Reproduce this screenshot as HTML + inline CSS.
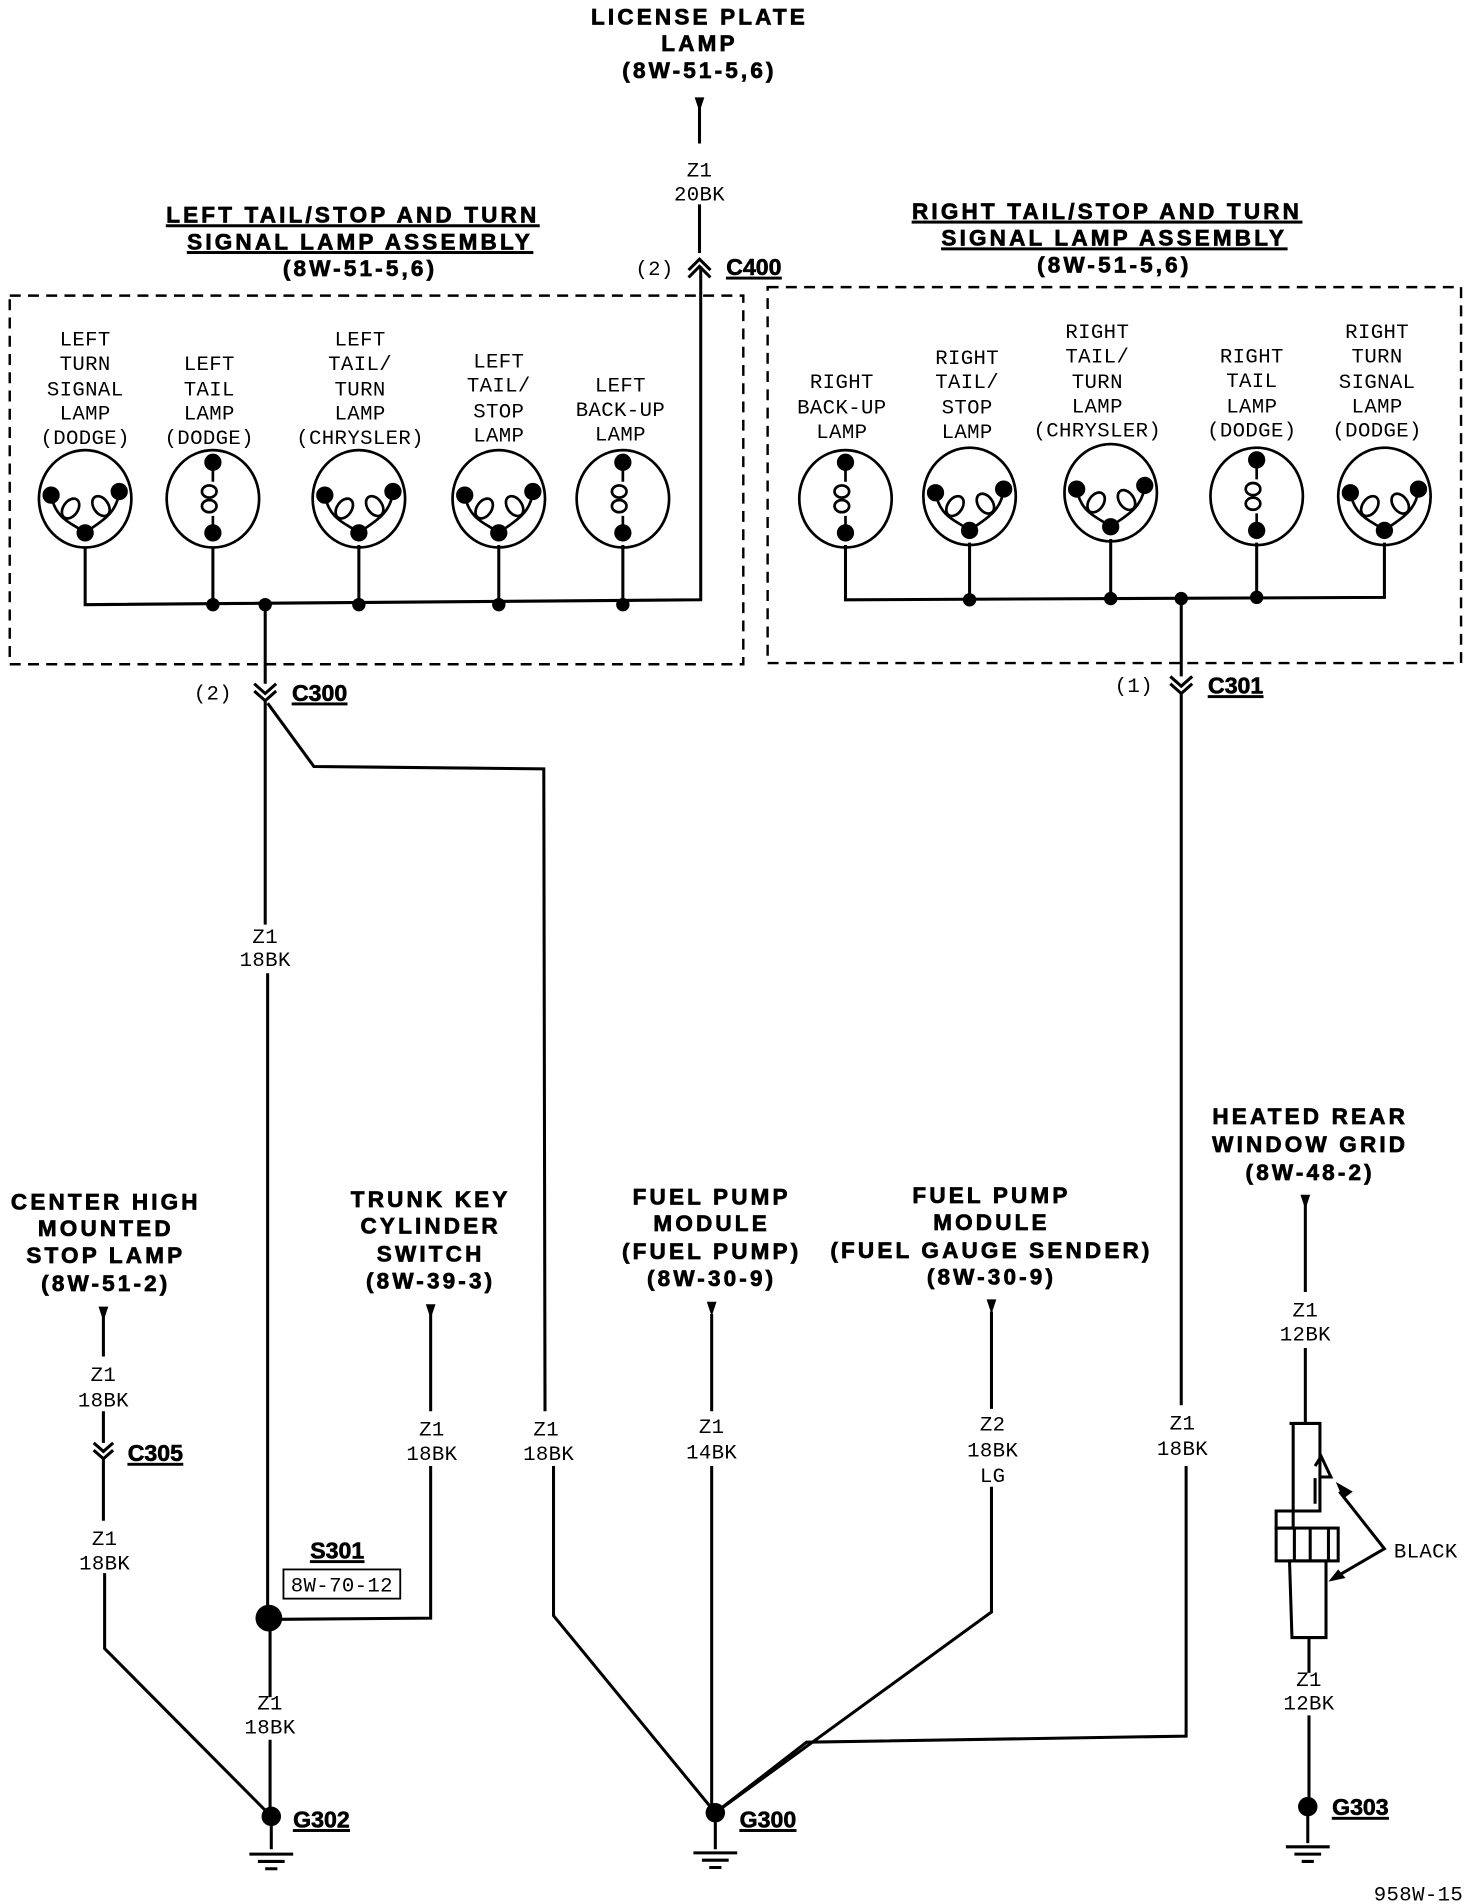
<!DOCTYPE html>
<html><head><meta charset="utf-8"><style>
html,body{margin:0;padding:0;background:#fff}
svg{display:block}
.h{font-family:"Liberation Sans",sans-serif;font-weight:bold;font-size:18.5px;letter-spacing:2.6px;text-anchor:middle;stroke:#000;stroke-width:0.6px}
.s{font-family:"Liberation Mono",monospace;font-size:17px;letter-spacing:0.3px;text-anchor:middle}
.c{font-family:"Liberation Sans",sans-serif;font-weight:bold;font-size:19px;text-decoration:underline;stroke:#000;stroke-width:0.5px}
</style></head><body>
<svg width="1472" height="1904" viewBox="0 0 1210 1565" preserveAspectRatio="none" xmlns="http://www.w3.org/2000/svg">
<defs>
<g id="la" fill="none" stroke="#000" stroke-width="2.2">
<ellipse cx="0" cy="0" rx="38" ry="40"/>
<path d="M-28,-3 C-24,18 -10,20 0,28 M28,-6 C26,14 10,20 0,28"/>
<ellipse cx="-12" cy="8" rx="6" ry="9" transform="rotate(35 -12 8)"/>
<ellipse cx="13" cy="6" rx="6" ry="9" transform="rotate(-35 13 6)"/>
<circle cx="-28" cy="-3" r="6" fill="#000"/><circle cx="28" cy="-6" r="6" fill="#000"/><circle cx="0" cy="28" r="6" fill="#000"/>
</g>
<g id="lb" fill="none" stroke="#000" stroke-width="2.2">
<ellipse cx="0" cy="0" rx="38" ry="40"/>
<path d="M0,-30 L0,-14 M0,14 L0,28"/>
<ellipse cx="-3" cy="-6" rx="6" ry="5"/><ellipse cx="-3" cy="6" rx="6" ry="5"/>
<circle cx="0" cy="-30" r="6" fill="#000"/><circle cx="0" cy="28" r="6" fill="#000"/>
</g>
<g id="gnd" stroke="#000" stroke-width="2.5"><path d="M-18,0 H18 M-11,6 H11 M-5,12 H5"/></g>
<path id="arr" d="M-4,0 L4,0 L0,12 Z"/>
</defs>

<text class="h" x="575" y="20">LICENSE PLATE</text>
<text class="h" x="575" y="42">LAMP</text>
<text class="h" x="575" y="64">(8W-51-5,6)</text>
<use href="#arr" x="575" y="80"/>
<g stroke="#000" stroke-width="2.5" fill="none">
<path d="M575,88 V118 M575,168 V208"/>
<path d="M566,222 L575,213 L584,222 M566,228 L575,219 L584,228"/>
<path d="M576,219 V493 L70,497 V450"/>
<path d="M175,497 V450 M295,497 V448 M410,497 V448 M512,497 V448"/>
<path d="M218,497 V562 M209,562 L218,570 L227,562 M209,568 L218,576 L227,568"/>
<path d="M218,576 V760 M220,800 V1330 M222,1330 V1395 M222,1430 V1492"/>
<path d="M220,578 L258,630 L447,632 L448,1160 M455,1205 V1328 L588,1490"/>
</g>
<text class="s" x="575" y="145">Z1</text><text class="s" x="575" y="165">20BK</text>
<text class="s" x="538" y="226">(2)</text><text class="c" x="597" y="226">C400</text>

<text class="h" x="290" y="183" text-decoration="underline">LEFT TAIL/STOP AND TURN</text>
<text class="h" x="296" y="205" text-decoration="underline">SIGNAL LAMP ASSEMBLY</text>
<text class="h" x="296" y="227">(8W-51-5,6)</text>
<rect x="8" y="243" width="603" height="303" fill="none" stroke="#000" stroke-width="2" stroke-dasharray="9,6"/>
<g class="s">
<text x="70" y="284">LEFT</text><text x="70" y="304">TURN</text><text x="70" y="325">SIGNAL</text><text x="70" y="345">LAMP</text><text x="70" y="365">(DODGE)</text>
<text x="172" y="304">LEFT</text><text x="172" y="325">TAIL</text><text x="172" y="345">LAMP</text><text x="172" y="365">(DODGE)</text>
<text x="296" y="284">LEFT</text><text x="296" y="304">TAIL/</text><text x="296" y="325">TURN</text><text x="296" y="345">LAMP</text><text x="296" y="365">(CHRYSLER)</text>
<text x="410" y="302">LEFT</text><text x="410" y="322">TAIL/</text><text x="410" y="343">STOP</text><text x="410" y="363">LAMP</text>
<text x="510" y="322">LEFT</text><text x="510" y="342">BACK-UP</text><text x="510" y="362">LAMP</text>
</g>
<use href="#la" x="70" y="410"/><use href="#lb" x="175" y="410"/><use href="#la" x="295" y="410"/><use href="#la" x="410" y="410"/><use href="#lb" x="512" y="410"/>
<g fill="#000"><circle cx="175" cy="497" r="5.5"/><circle cx="218" cy="497" r="5.5"/><circle cx="295" cy="497" r="5.5"/><circle cx="410" cy="497" r="5.5"/><circle cx="512" cy="497" r="5.5"/></g>
<text class="s" x="175" y="575">(2)</text><text class="c" x="240" y="576">C300</text>
<text class="s" x="218" y="775">Z1</text><text class="s" x="218" y="794">18BK</text>

<text class="h" x="910" y="180" text-decoration="underline">RIGHT TAIL/STOP AND TURN</text>
<text class="h" x="916" y="202" text-decoration="underline">SIGNAL LAMP ASSEMBLY</text>
<text class="h" x="916" y="224">(8W-51-5,6)</text>
<rect x="631" y="236" width="570" height="309" fill="none" stroke="#000" stroke-width="2" stroke-dasharray="9,6"/>
<g class="s">
<text x="692" y="319">RIGHT</text><text x="692" y="340">BACK-UP</text><text x="692" y="360">LAMP</text>
<text x="795" y="299">RIGHT</text><text x="795" y="319">TAIL/</text><text x="795" y="340">STOP</text><text x="795" y="360">LAMP</text>
<text x="902" y="278">RIGHT</text><text x="902" y="298">TAIL/</text><text x="902" y="319">TURN</text><text x="902" y="339">LAMP</text><text x="902" y="359">(CHRYSLER)</text>
<text x="1029" y="298">RIGHT</text><text x="1029" y="318">TAIL</text><text x="1029" y="339">LAMP</text><text x="1029" y="359">(DODGE)</text>
<text x="1132" y="278">RIGHT</text><text x="1132" y="298">TURN</text><text x="1132" y="319">SIGNAL</text><text x="1132" y="339">LAMP</text><text x="1132" y="359">(DODGE)</text>
</g>
<use href="#lb" x="695" y="410"/><use href="#la" x="797" y="408"/><use href="#la" x="913" y="405"/><use href="#lb" x="1033" y="408"/><use href="#la" x="1138" y="408"/>
<g stroke="#000" stroke-width="2.5" fill="none">
<path d="M695,448 V493 L1138,491 V446 M797,493 V446 M913,492 V443 M1033,491 V446"/>
<path d="M971,492 V556 M962,556 L971,564 L980,556 M962,562 L971,570 L980,562"/>
<path d="M971,570 V1155 M975,1205 V1427 L663,1432 L588,1490"/>
</g>
<g fill="#000"><circle cx="797" cy="493" r="5.5"/><circle cx="913" cy="492" r="5.5"/><circle cx="971" cy="492" r="5.5"/><circle cx="1033" cy="491" r="5.5"/></g>
<text class="s" x="932" y="569">(1)</text><text class="c" x="993" y="570">C301</text>
<text class="s" x="972" y="1175">Z1</text><text class="s" x="972" y="1196">18BK</text>
<text class="s" x="449" y="1180">Z1</text><text class="s" x="451" y="1200">18BK</text>

<text class="h" x="87" y="994">CENTER HIGH</text>
<text class="h" x="87" y="1016">MOUNTED</text>
<text class="h" x="87" y="1038">STOP LAMP</text>
<text class="h" x="87" y="1061">(8W-51-2)</text>
<use href="#arr" x="85" y="1074"/>
<g stroke="#000" stroke-width="2.5" fill="none">
<path d="M85,1082 V1115 M85,1160 V1186 M77,1186 L85,1193 L93,1186 M77,1192 L85,1199 L93,1192 M85,1199 V1250 M86,1293 V1355 L222,1492"/>
<path d="M354,1080 V1160 M354,1205 V1330 L230,1331"/>
<path d="M585,1080 V1160 M585,1205 V1490"/>
<path d="M815,1078 V1158 M815,1222 V1325 L588,1490"/>
<path d="M223,1492 V1520 M588,1490 V1520 M1075,1485 V1515"/>
<path d="M1073,990 V1062 M1073,1108 V1170 M1076,1346 V1375 M1076,1410 V1485"/>
</g>
<text class="s" x="85" y="1135">Z1</text><text class="s" x="85" y="1156">18BK</text>
<text class="c" x="105" y="1201">C305</text>
<text class="s" x="86" y="1270">Z1</text><text class="s" x="86" y="1290">18BK</text>

<text class="h" x="354" y="992">TRUNK KEY</text>
<text class="h" x="354" y="1014">CYLINDER</text>
<text class="h" x="354" y="1037">SWITCH</text>
<text class="h" x="354" y="1059">(8W-39-3)</text>
<use href="#arr" x="354" y="1072"/>
<text class="s" x="355" y="1180">Z1</text><text class="s" x="355" y="1200">18BK</text>
<text class="c" x="255" y="1281">S301</text>
<rect x="233" y="1290" width="96" height="24" fill="none" stroke="#000" stroke-width="1.5"/>
<text class="s" x="281" y="1308">8W-70-12</text>
<circle cx="221" cy="1330" r="11" fill="#000"/>
<text class="s" x="222" y="1405">Z1</text><text class="s" x="222" y="1425">18BK</text>
<circle cx="223" cy="1493" r="8" fill="#000"/>
<text class="c" x="241" y="1502">G302</text>
<use href="#gnd" x="223" y="1524"/>

<text class="h" x="585" y="990">FUEL PUMP</text>
<text class="h" x="585" y="1012">MODULE</text>
<text class="h" x="585" y="1035">(FUEL PUMP)</text>
<text class="h" x="585" y="1057">(8W-30-9)</text>
<use href="#arr" x="585" y="1070"/>
<text class="s" x="585" y="1178">Z1</text><text class="s" x="585" y="1199">14BK</text>
<text class="h" x="815" y="989">FUEL PUMP</text>
<text class="h" x="815" y="1011">MODULE</text>
<text class="h" x="815" y="1034">(FUEL GAUGE SENDER)</text>
<text class="h" x="815" y="1056">(8W-30-9)</text>
<use href="#arr" x="815" y="1068"/>
<text class="s" x="816" y="1176">Z2</text><text class="s" x="816" y="1197">18BK</text><text class="s" x="816" y="1218">LG</text>
<circle cx="588" cy="1490" r="8" fill="#000"/>
<text class="c" x="608" y="1502">G300</text>
<use href="#gnd" x="588" y="1523"/>

<text class="h" x="1077" y="924">HEATED REAR</text>
<text class="h" x="1077" y="947">WINDOW GRID</text>
<text class="h" x="1077" y="970">(8W-48-2)</text>
<use href="#arr" x="1073" y="982"/>
<text class="s" x="1073" y="1082">Z1</text><text class="s" x="1073" y="1102">12BK</text>
<g stroke="#000" stroke-width="2.5" fill="none">
<path d="M1060,1170 H1085 V1242 H1049 V1256 H1063 V1170"/>
<path d="M1081,1215 V1236 M1081,1205 L1086,1197 L1094,1214 L1086,1214"/>
<rect x="1049" y="1256" width="51" height="27"/>
<path d="M1064,1256 V1283 M1077,1256 V1283 M1092,1256 V1283"/>
<path d="M1060,1283 H1090 V1346 H1062 Z"/>
<path d="M1101,1226 L1138,1273 L1095,1298"/>
</g>
<path d="M1098,1218 L1112,1226 L1104,1232 Z M1092,1300 L1100,1290 L1106,1297 Z" fill="#000"/>
<text class="s" x="1172" y="1280">BLACK</text>
<text class="s" x="1076" y="1386">Z1</text><text class="s" x="1076" y="1405">12BK</text>
<circle cx="1075" cy="1485" r="8" fill="#000"/>
<text class="c" x="1095" y="1492">G303</text>
<use href="#gnd" x="1075" y="1518"/>
<text class="s" x="1166" y="1562">958W-15</text>
</svg>
</body></html>
